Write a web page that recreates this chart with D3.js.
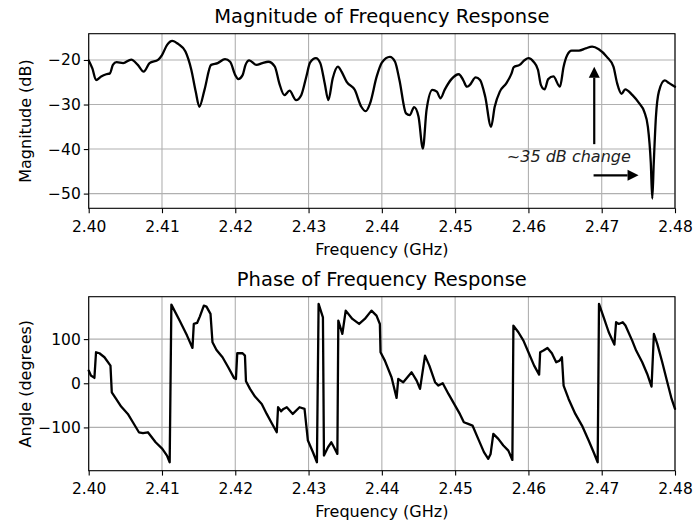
<!DOCTYPE html>
<html>
<head>
<meta charset="utf-8">
<script src="https://cdn.jsdelivr.net/npm/d3@7"></script>
<style>
  body { margin: 0; background: #fff; }
  svg { font-family: "DejaVu Sans", sans-serif; }
  .tick text { font-size: 15.5px; fill: #000; }
  .title { font-size: 19.5px; }
  .axis-label { font-size: 16px; }
</style>
</head>
<body>
<div id="chart"></div>
<script>
// frequency axis (GHz)
var freqTicks = [2.40, 2.41, 2.42, 2.43, 2.44, 2.45, 2.46, 2.47, 2.48];
var magTicks = [-50, -40, -30, -20];
var phaseTicks = [-100, 0, 100];

// magnitude response
var magFreq = [2.4000, 2.4005, 2.4010, 2.4017, 2.4024, 2.4029, 2.4033, 2.4038, 2.4047, 2.4058,
  2.4067, 2.4075, 2.4083, 2.4095, 2.4100, 2.4107, 2.4114, 2.4122, 2.4132, 2.4140,
  2.4146, 2.4151, 2.4158, 2.4167, 2.4176, 2.4186, 2.4193, 2.4200, 2.4204, 2.4210,
  2.4214, 2.4219, 2.4229, 2.4237, 2.4245, 2.4254, 2.4260, 2.4267, 2.4274, 2.4283,
  2.4290, 2.4297, 2.4302, 2.4310, 2.4316, 2.4322, 2.4327, 2.4333, 2.4340, 2.4345,
  2.4352, 2.4363, 2.4372, 2.4378, 2.4384, 2.4393, 2.4400, 2.4411, 2.4418, 2.4424,
  2.4433, 2.4438, 2.4444, 2.4450, 2.4456, 2.4461, 2.4469, 2.4475, 2.4480, 2.4486,
  2.4495, 2.4505, 2.4511, 2.4516, 2.4520, 2.4528, 2.4534, 2.4541, 2.4549, 2.4554,
  2.4561, 2.4570, 2.4577, 2.4580, 2.4588, 2.4595, 2.4600, 2.4607, 2.4613, 2.4617,
  2.4622, 2.4627, 2.4634, 2.4643, 2.4648, 2.4653, 2.4659, 2.4669, 2.4678, 2.4687,
  2.4696, 2.4707, 2.4716, 2.4721, 2.4727, 2.4732, 2.4742, 2.4751, 2.4758, 2.4763,
  2.4767, 2.4769, 2.4771, 2.4774, 2.4778, 2.4786, 2.4792, 2.4800];
var magDb = [-20.1, -21.9, -24.5, -23.7, -23.2, -23.0, -21.1, -20.5, -20.7, -19.9,
  -21.1, -22.6, -20.7, -19.9, -18.9, -16.6, -15.7, -16.4, -18.1, -22.2,
  -27.1, -30.5, -26.7, -21.1, -20.7, -19.8, -20.4, -23.4, -24.3, -23.4,
  -21.1, -20.1, -21.1, -20.7, -20.4, -21.5, -25.2, -27.9, -26.9, -29.0,
  -27.9, -23.7, -20.6, -19.6, -20.7, -25.2, -29.0, -24.1, -21.5, -22.6,
  -24.9, -26.7, -30.5, -31.5, -29.7, -23.7, -20.6, -19.3, -20.4, -24.5,
  -32.0, -32.4, -30.6, -32.7, -39.9, -31.2, -26.7, -27.1, -28.6, -26.6,
  -24.3, -23.2, -24.5, -26.0, -25.6, -23.9, -24.5, -28.2, -35.0, -30.5,
  -27.1, -25.2, -23.0, -21.6, -21.1, -20.0, -19.6, -20.4, -22.2, -25.6,
  -26.6, -24.3, -23.7, -26.0, -21.5, -18.9, -17.9, -17.9, -17.4, -17.0,
  -17.6, -19.3, -21.5, -25.2, -27.6, -26.6, -27.9, -29.7, -31.6, -35.0,
  -43.2, -51.1, -43.2, -32.7, -27.1, -24.6, -25.2, -26.0];

// phase response
var phaseFreq = [2.40000, 2.40030, 2.40078, 2.40100, 2.40146, 2.40215, 2.40297, 2.40315, 2.40374, 2.40443,
  2.40534, 2.40603, 2.40685, 2.40740, 2.40808, 2.40913, 2.41005, 2.41068, 2.41105, 2.41128,
  2.41242, 2.41342, 2.41416, 2.41434, 2.41479, 2.41516, 2.41571, 2.41607, 2.41662, 2.41689,
  2.41744, 2.41826, 2.41904, 2.41982, 2.42009, 2.42027, 2.42100, 2.42132, 2.42146, 2.42201,
  2.42269, 2.42361, 2.42429, 2.42498, 2.42566, 2.42584, 2.42626, 2.42658, 2.42703, 2.42785,
  2.42877, 2.42945, 2.42991, 2.43060, 2.43114, 2.43137, 2.43196, 2.43210, 2.43265, 2.43310,
  2.43347, 2.43393, 2.43406, 2.43461, 2.43507, 2.43598, 2.43690, 2.43767, 2.43858, 2.43927,
  2.43973, 2.43982, 2.44041, 2.44132, 2.44201, 2.44224, 2.44292, 2.44406, 2.44475, 2.44521,
  2.44589, 2.44648, 2.44726, 2.44772, 2.44831, 2.44909, 2.45000, 2.45066, 2.45119, 2.45178,
  2.45237, 2.45315, 2.45393, 2.45452, 2.45484, 2.45521, 2.45589, 2.45658, 2.45726, 2.45781,
  2.45795, 2.45863, 2.45932, 2.46000, 2.46078, 2.46146, 2.46160, 2.46205, 2.46260, 2.46320,
  2.46379, 2.46425, 2.46457, 2.46480, 2.46548, 2.46640, 2.46731, 2.46822, 2.46890, 2.46945,
  2.46963, 2.47027, 2.47096, 2.47173, 2.47196, 2.47232, 2.47287, 2.47324, 2.47416, 2.47470,
  2.47553, 2.47621, 2.47680, 2.47712, 2.47758, 2.47826, 2.47895, 2.47954, 2.48000];
var phaseDeg = [28.7, 17.4, 12.1, 70.2, 67.9, 58.9, 40.0, -20.4, -35.5, -52.8,
  -69.4, -88.3, -111.0, -113.0, -111.0, -133.6, -148.7, -163.8, -178.9, 178.0,
  141.5, 107.9, 80.0, 134.3, 136.6, 150.9, 175.8, 173.6, 157.0, 92.8,
  75.5, 58.9, 36.2, 12.1, 9.8, 67.9, 67.9, 62.6, 4.5, -12.8,
  -30.2, -46.8, -69.4, -90.6, -111.0, -54.3, -63.4, -58.1, -54.3, -69.4,
  -54.3, -58.1, -129.8, -156.2, -178.9, 179.6, 149.4, -163.8, -144.9, -133.6,
  -144.9, -160.0, 141.9, 111.7, 164.5, 145.7, 134.3, 145.7, 164.5, 153.2,
  134.3, 70.2, 51.3, 13.6, -33.2, 9.8, 2.3, 24.9, 6.0, -12.8,
  62.6, 40.0, 2.3, -5.3, 0.0, -24.2, -50.6, -70.0, -88.3, -92.0,
  -95.8, -126.0, -156.0, -171.0, -160.0, -114.7, -126.0, -141.0, -152.5, -173.6,
  130.6, 115.5, 96.6, 70.2, 40.0, 19.6, 70.2, 74.0, 80.0, 67.9,
  47.5, 51.3, 58.9, -5.3, -35.5, -69.4, -95.8, -129.8, -156.2, -178.9,
  179.6, 149.4, 115.5, 87.5, 138.1, 134.3, 138.1, 130.6, 96.6, 74.0,
  47.5, 21.1, -7.5, 111.7, 89.1, 47.5, 2.3, -35.5, -58.1];

// annotation: [x1, y1, x2, y2] in data units, arrow head at (x2, y2)
var annotArrows = [[2.46898, -38.9, 2.46898, -21.5], [2.46889, -45.9, 2.47503, -45.9]];
var annotText = { x: 2.46551, y: -42.8, label: "~35 dB change" };

var width = 694, height = 524;
var plotLeft = 88.7, plotRight = 675;

var svg = d3.select("#chart").append("svg")
  .attr("width", width)
  .attr("height", height);

svg.append("rect").attr("width", width).attr("height", height).attr("fill", "#fff");

var xScale = d3.scaleLinear()
  .domain([2.40, 2.48])
  .range([plotLeft, plotRight]);

function drawPanel(opts) {
  var yScale = d3.scaleLinear().domain(opts.yDomain).range([opts.bottom, opts.top]);
  var g = svg.append("g");

  // grid
  g.selectAll(".vgrid").data(freqTicks).join("line")
    .attr("x1", d => xScale(d)).attr("x2", d => xScale(d))
    .attr("y1", opts.top).attr("y2", opts.bottom)
    .attr("stroke", "#b0b0b0").attr("stroke-width", 1.1);
  g.selectAll(".hgrid").data(opts.yTicks).join("line")
    .attr("x1", plotLeft).attr("x2", plotRight)
    .attr("y1", d => yScale(d)).attr("y2", d => yScale(d))
    .attr("stroke", "#b0b0b0").attr("stroke-width", 1.1);

  // data line
  var line = d3.line()
    .x((d, i) => xScale(opts.xs[i]))
    .y(d => yScale(d))
    .curve(opts.curve);

  g.append("path")
    .datum(opts.ys)
    .attr("d", line)
    .attr("fill", "none")
    .attr("stroke", "#000")
    .attr("stroke-width", 2.3)
    .attr("stroke-linejoin", "round")
    .attr("stroke-linecap", "round");

  // axes
  var xAxis = d3.axisBottom(xScale).tickValues(freqTicks).tickFormat(d3.format(".2f"))
    .tickSize(4.9).tickSizeOuter(0).tickPadding(7.5);
  var xg = g.append("g").attr("transform", "translate(0," + opts.bottom + ")").call(xAxis);

  var yAxis = d3.axisLeft(yScale).tickValues(opts.yTicks).tickFormat(d3.format("d"))
    .tickSize(4.9).tickSizeOuter(0).tickPadding(3);
  var yg = g.append("g").attr("transform", "translate(" + plotLeft + ",0)").call(yAxis);

  [xg, yg].forEach(function(a) {
    a.select(".domain").remove();
    a.selectAll(".tick line").attr("stroke", "#000").attr("stroke-width", 1.1);
    a.attr("font-family", null).attr("font-size", null);
  });

  // frame
  g.append("rect")
    .attr("x", plotLeft).attr("y", opts.top)
    .attr("width", plotRight - plotLeft).attr("height", opts.bottom - opts.top)
    .attr("fill", "none").attr("stroke", "#000").attr("stroke-width", 1.1);

  g.append("text").attr("class", "title")
    .attr("x", (plotLeft + plotRight) / 2).attr("y", opts.top - 11)
    .attr("text-anchor", "middle")
    .text(opts.title);

  g.append("text").attr("class", "axis-label")
    .attr("x", (plotLeft + plotRight) / 2).attr("y", opts.bottom + 46.5)
    .attr("text-anchor", "middle")
    .text("Frequency (GHz)");

  g.append("text").attr("class", "axis-label")
    .attr("transform", "translate(31," + (opts.top + opts.bottom) / 2 + ") rotate(-90)")
    .attr("text-anchor", "middle")
    .text(opts.yLabel);

  return { g: g, yScale: yScale };
}

var mag = drawPanel({
  top: 33.7, bottom: 208.3, yDomain: [-53.3, -14.1], yTicks: magTicks,
  xs: magFreq, ys: magDb, curve: d3.curveMonotoneX,
  title: "Magnitude of Frequency Response", yLabel: "Magnitude (dB)"
});

drawPanel({
  top: 296.7, bottom: 470.7, yDomain: [-198, 196], yTicks: phaseTicks,
  xs: phaseFreq, ys: phaseDeg, curve: d3.curveLinear,
  title: "Phase of Frequency Response", yLabel: "Angle (degrees)"
});

// annotation arrows
var ys = mag.yScale;
annotArrows.forEach(function(a) {
  var x1 = xScale(a[0]), y1 = ys(a[1]), x2 = xScale(a[2]), y2 = ys(a[3]);
  var ang = Math.atan2(y2 - y1, x2 - x1);
  var headLen = 11, headW = 5.5;
  var bx = x2 - headLen * Math.cos(ang), by = y2 - headLen * Math.sin(ang);
  mag.g.append("line")
    .attr("x1", x1).attr("y1", y1).attr("x2", bx).attr("y2", by)
    .attr("stroke", "#000").attr("stroke-width", 2.2);
  var px = -Math.sin(ang) * headW, py = Math.cos(ang) * headW;
  mag.g.append("path")
    .attr("d", "M" + x2 + "," + y2 + "L" + (bx + px) + "," + (by + py) + "L" + (bx - px) + "," + (by - py) + "Z")
    .attr("fill", "#000");
});

mag.g.append("text")
  .attr("x", xScale(annotText.x)).attr("y", ys(annotText.y))
  .attr("text-anchor", "middle")
  .attr("font-style", "italic")
  .attr("font-size", "16px")
  .attr("fill", "#222")
  .text(annotText.label);
</script>
</body>
</html>
